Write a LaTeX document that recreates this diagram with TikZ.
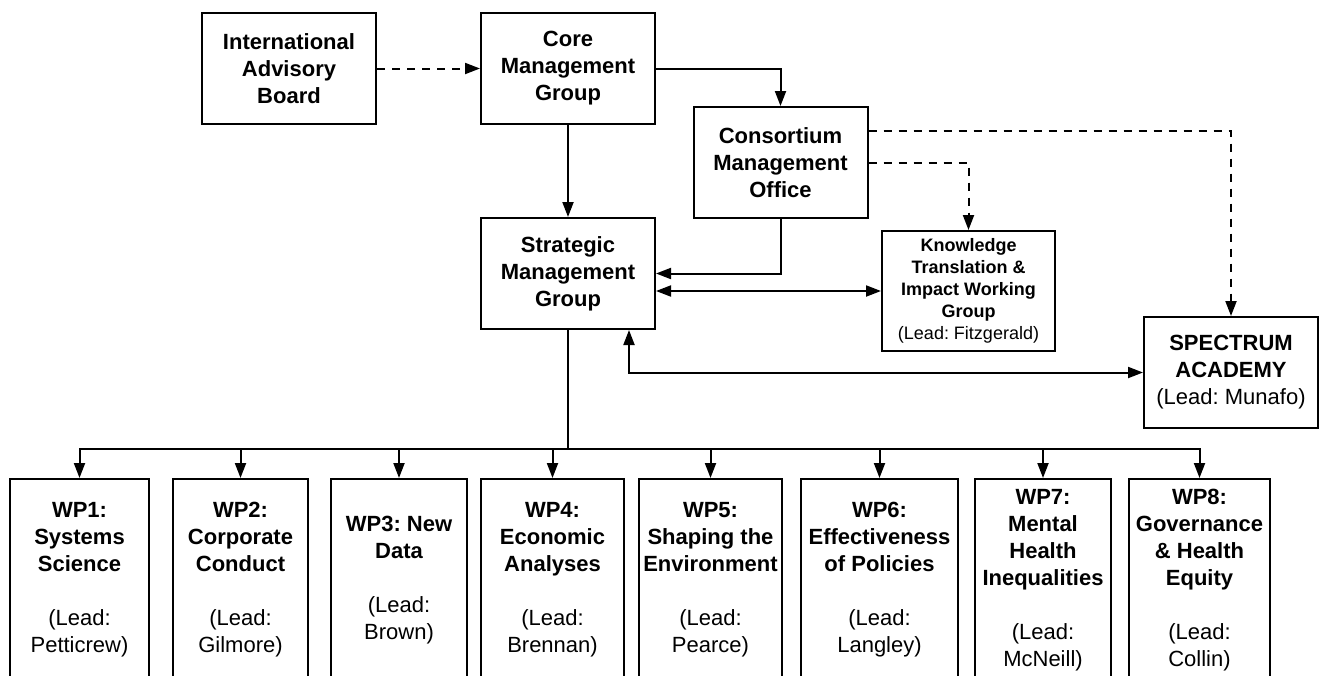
\documentclass[tikz,border=0pt]{standalone}
\usepackage{fontspec}
\setmainfont{Liberation Sans}
\usetikzlibrary{arrows.meta}
\newcommand\lead[1]{{\mdseries #1}}
\tikzset{
    >={Triangle[length=7.5pt,width=5.5pt]},
    box/.style={draw, line width=1pt, align=center, inner sep=2pt,
        font=\frenchspacing\bfseries\fontsize{11}{13.5}\selectfont},
    topbox/.style={box, minimum width=87pt, minimum height=55.5pt},
    wpbox/.style={box, anchor=north, minimum height=101pt},
    link/.style={line width=1pt, ->},
    dlink/.style={link, dash pattern=on 4pt off 3.5pt}
}

\begin{document}
\begin{tikzpicture}[x=0.5pt, y=-0.5pt]
    \useasboundingbox (0,0) rectangle (1321,675);
    \clip (0,0) rectangle (1321,675);
    % management boxes
    \node[topbox] (iab) at (289,68.5) {International\\Advisory\\Board};
    \node[topbox] (cmg) at (568,68.5) {Core\\Management\\Group};
    \node[topbox] (smg) at (568,273.5) {Strategic\\Management\\Group};
    \node[topbox] (cmo) at (780.5,162.5) {Consortium\\Management\\Office};
    \node[box, minimum width=86.5pt, minimum height=60pt,
        font=\frenchspacing\bfseries\fontsize{9}{11}\selectfont] (ktw) at (968.5,291)
        {Knowledge\\Translation \&\\Impact Working\\Group\\\lead{(Lead: Fitzgerald)}};
    \node[topbox] (spa) at (1231,372.5) {SPECTRUM\\ACADEMY\\\lead{(Lead: Munafo)}};
    % work packages
    \node[wpbox, minimum width=69.5pt] (wp1) at (79.5,478) {WP1:\\Systems\\Science\\[13.5pt]\lead{(Lead:}\\\lead{Petticrew)}};
    \node[wpbox, minimum width=67.5pt] (wp2) at (240.5,478) {WP2:\\Corporate\\Conduct\\[13.5pt]\lead{(Lead:}\\\lead{Gilmore)}};
    \node[wpbox, minimum width=68pt] (wp3) at (399,478) {WP3: New\\Data\\[13.5pt]\lead{(Lead:}\\\lead{Brown)}};
    \node[wpbox, minimum width=71.5pt] (wp4) at (552.5,478) {WP4:\\Economic\\Analyses\\[13.5pt]\lead{(Lead:}\\\lead{Brennan)}};
    \node[wpbox, minimum width=71.5pt] (wp5) at (710.5,478) {WP5:\\Shaping the\\Environment\\[13.5pt]\lead{(Lead:}\\\lead{Pearce)}};
    \node[wpbox, minimum width=78.5pt] (wp6) at (879.5,478) {WP6:\\Effectiveness\\of Policies\\[13.5pt]\lead{(Lead:}\\\lead{Langley)}};
    \node[wpbox, minimum width=68pt] (wp7) at (1043,478) {WP7:\\Mental\\Health\\Inequalities\\[13.5pt]\lead{(Lead:}\\\lead{McNeill)}};
    \node[wpbox, minimum width=70.5pt] (wp8) at (1199.5,478) {WP8:\\Governance\\\& Health\\Equity\\[13.5pt]\lead{(Lead:}\\\lead{Collin)}};
    % connectors
    \draw[dlink] (iab) -- (cmg);
    \draw[link] (cmg) -- (smg);
    \draw[link] (cmg.east) -| (cmo.north);
    \draw[link] (cmo.south) |- (smg.east);
    \draw[link, <->] (smg.east |- ktw.west) -- (ktw.west);
    \draw[dlink] (cmo.east) -| (ktw.north);
    \draw[dlink] ([yshift=15.75pt]cmo.east) -| (spa.north);
    \draw[link, <->] ([xshift=30.5pt]smg.south) |- (spa.west);
    \coordinate (bus) at (568,449);
    \draw[line width=1pt] (smg.south) -- (bus);
    \foreach \i in {1,...,8}
        \draw[link] (bus) -| (wp\i.north);
\end{tikzpicture}
\end{document}
